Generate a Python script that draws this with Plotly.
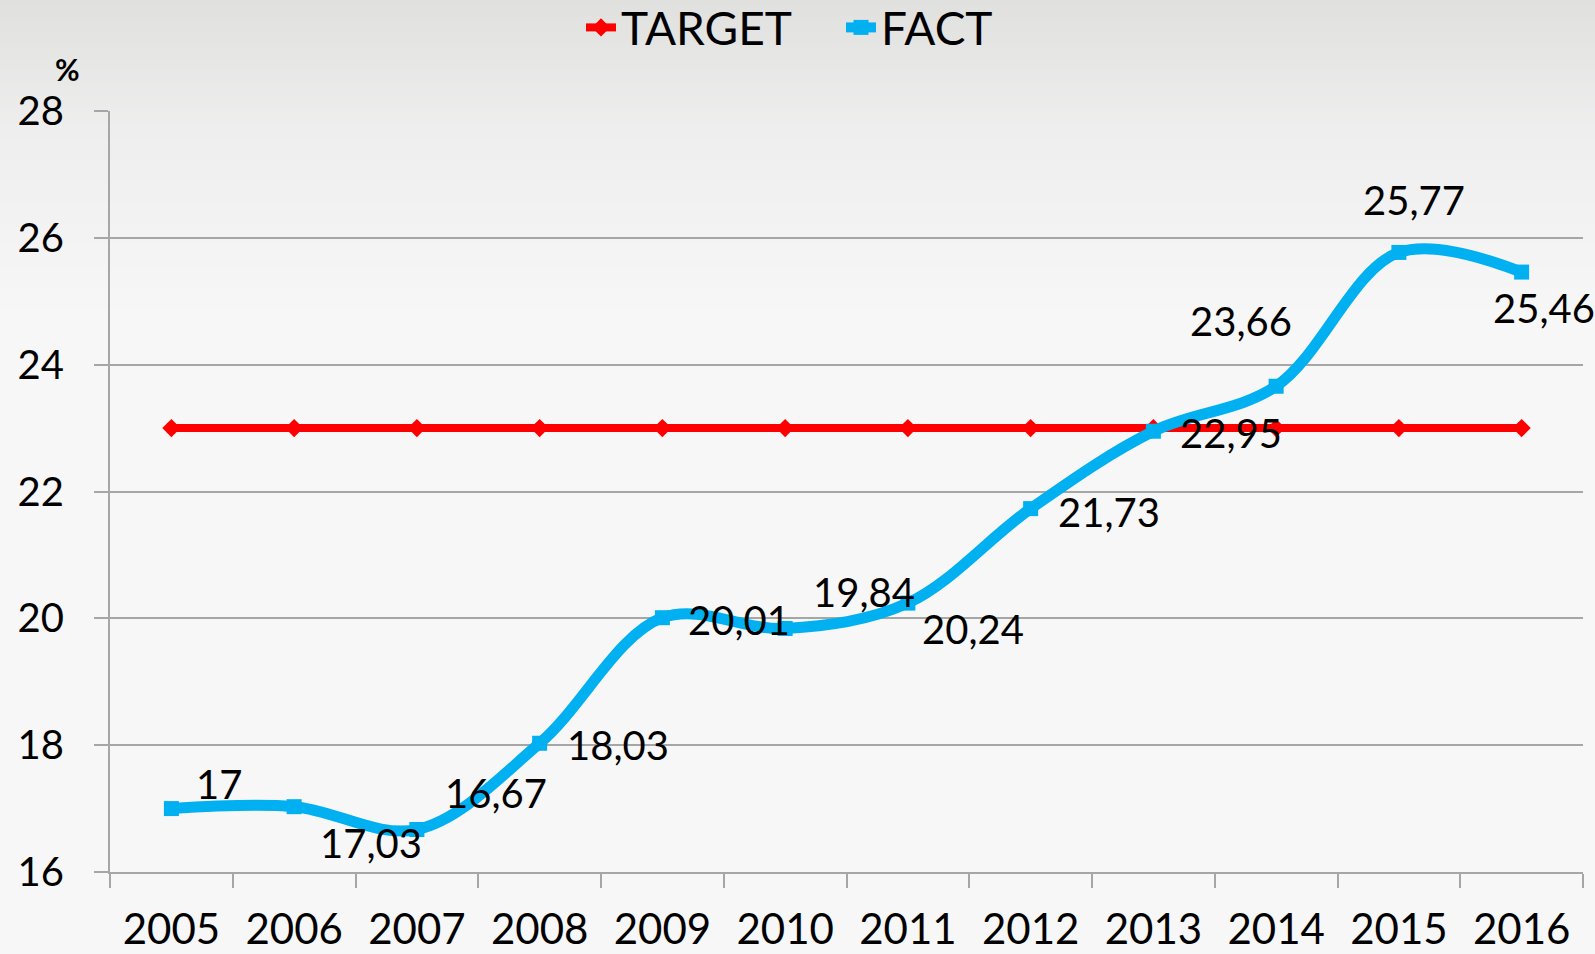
import plotly.graph_objects as go

years = ["2005", "2006", "2007", "2008", "2009", "2010",
         "2011", "2012", "2013", "2014", "2015", "2016"]
target = [23, 23, 23, 23, 23, 23, 23, 23, 23, 23, 23, 23]
fact = [17, 17.03, 16.67, 18.03, 20.01, 19.84, 20.24, 21.73, 22.95, 23.66, 25.77, 25.46]
y_ticks = [16, 18, 20, 22, 24, 26, 28]

# label offsets (px) for the FACT data labels (style only)
label_dx = [48, 77, 79, 78, 77, 79, 65, 78, 78, -35, 15, 22]
label_dy = [25, -36, 37, -2, -2, 36, -26, -3, -2, 65, 52, -36]

FONT = "Lato"
W, H = 1595, 954
ML, MR, MT, MB = 110, 12, 111, 82
PW = W - ML - MR
PH = H - MT - MB

fig = go.Figure()

fig.add_trace(go.Scatter(
    x=years, y=target, name="TARGET", mode="lines+markers",
    line=dict(color="#ff0000", width=8, shape="spline", smoothing=1),
    marker=dict(symbol="diamond", size=14, color="#ff0000"),
))
fig.add_trace(go.Scatter(
    x=years, y=fact, name="FACT", mode="lines+markers",
    line=dict(color="#00b0f0", width=11, shape="spline", smoothing=1),
    marker=dict(symbol="square", size=15, color="#00b0f0"),
))

for i, v in enumerate(fact):
    txt = f"{v:g}".replace(".", ",")
    fig.add_annotation(
        x=i, y=v, text=txt, showarrow=False,
        xshift=label_dx[i], yshift=label_dy[i],
        font=dict(family=FONT, size=40, color="#000000"),
    )

# "%" label
fig.add_annotation(
    xref="paper", yref="paper", xanchor="center", yanchor="middle",
    x=(67 - ML) / PW, y=(H - MB - 69) / PH,
    text="<b>%</b>", showarrow=False,
    font=dict(family=FONT, size=30, color="#000000"),
)

# background gradient bands
def lerp(c1, c2, t):
    return tuple(round(a + (b - a) * t) for a, b in zip(c1, c2))

top_c = (224, 224, 222)
mid_c = (238, 238, 238)
bot_c = (247, 247, 247)
N = 60
span = 320
for k in range(N):
    py0 = span * k / N
    py1 = span * (k + 1) / N + 1
    t = (k + 0.5) / N
    if t < 0.4:
        c = lerp(top_c, mid_c, t / 0.4)
    else:
        c = lerp(mid_c, bot_c, (t - 0.4) / 0.6)
    fig.add_shape(
        type="rect", xref="paper", yref="paper",
        x0=-ML / PW - 0.01, x1=1 + MR / PW + 0.01,
        y0=(H - MB - py1) / PH, y1=(H - MB - py0) / PH,
        fillcolor="rgb(%d,%d,%d)" % c, line=dict(width=0), layer="below",
    )

fig.update_layout(
    width=W, height=H,
    margin=dict(l=ML, r=MR, t=MT, b=MB, autoexpand=False),
    paper_bgcolor="#f7f7f7",
    plot_bgcolor="rgba(0,0,0,0)",
    font=dict(family=FONT, color="#000000"),
    showlegend=True,
    legend=dict(
        orientation="h", x=(841 - ML) / PW, xanchor="center",
        y=(H - MB + 9) / PH, yanchor="top",
        font=dict(family=FONT, size=46, color="#000000"),
        bgcolor="rgba(0,0,0,0)", itemwidth=30, tracegroupgap=0,
        entrywidth=215, entrywidthmode="pixels",
    ),
    xaxis=dict(
        type="category", categoryorder="array", categoryarray=years,
        range=[-0.5, len(years) - 0.5], automargin=False,
        showgrid=False, showline=True, linecolor="#a6a6a6", linewidth=2,
        ticks="outside", tickson="boundaries", ticklen=14, tickcolor="#a6a6a6",
        tickwidth=2, tickangle=0,
        tickfont=dict(family=FONT, size=42, color="#000000"),
        ticklabelstandoff=20, zeroline=False, fixedrange=True,
    ),
    yaxis=dict(
        range=[16, 28], tickvals=y_ticks, showgrid=True, gridcolor="#a6a6a6",
        gridwidth=1.5, showline=True, linecolor="#a6a6a6", linewidth=2,
        ticks="outside", ticklen=14, tickcolor="#a6a6a6", tickwidth=2,
        automargin=False,
        tickfont=dict(family=FONT, size=40, color="#000000"),
        ticklabelstandoff=22, zeroline=False, fixedrange=True,
    ),
)

fig.write_html("out.html", config={"displayModeBar": False},
               post_script="document.body.style.margin='0';")
